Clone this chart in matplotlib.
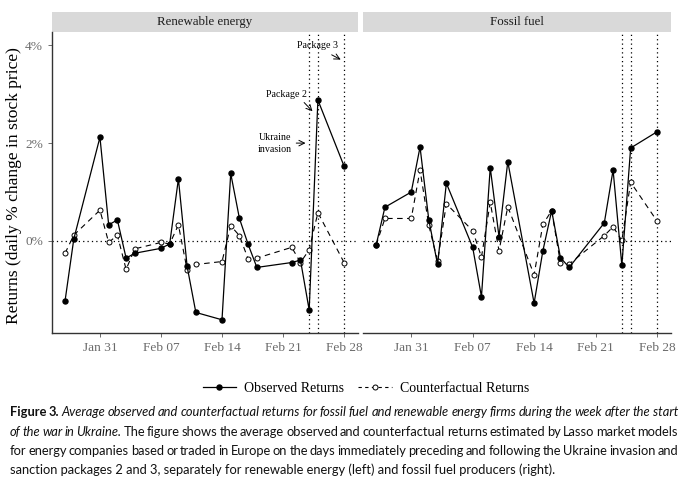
import matplotlib.pyplot as plt
import matplotlib.dates as mdates
import pandas as pd
from matplotlib.patches import Rectangle
from matplotlib.lines import Line2D

# trading days (no Feb 21, US holiday)
dates = pd.to_datetime(['2022-01-27', '2022-01-28', '2022-01-31', '2022-02-01', '2022-02-02',
                        '2022-02-03', '2022-02-04', '2022-02-07', '2022-02-08', '2022-02-09',
                        '2022-02-10', '2022-02-11', '2022-02-14', '2022-02-15', '2022-02-16',
                        '2022-02-17', '2022-02-18', '2022-02-22', '2022-02-23', '2022-02-24',
                        '2022-02-25', '2022-02-28'])

# daily returns in %
renew_obs = [-1.22, 0.04, 2.12, 0.33, 0.43, -0.35, -0.25, -0.15, -0.06, 1.27, -0.52,
             -1.46, -1.61, 1.38, 0.46, -0.07, -0.54, -0.44, -0.39, -1.41, 2.88, 1.53]
renew_cf = [-0.25, 0.12, 0.63, -0.03, 0.12, -0.58, -0.16, -0.03, -0.06, 0.33, -0.59,
            -0.48, -0.42, 0.31, 0.11, -0.37, -0.35, -0.13, -0.44, -0.18, 0.58, -0.44]
fossil_obs = [-0.08, 0.69, 1.00, 1.92, 0.43, -0.48, 1.18, -0.13, -1.14, 1.50, 0.09,
              1.62, -1.27, -0.20, 0.62, -0.34, -0.54, 0.37, 1.45, -0.50, 1.90, 2.23]
fossil_cf = [-0.08, 0.46, 0.46, 1.45, 0.32, -0.41, 0.76, 0.21, -0.33, 0.79, -0.20,
             0.70, -0.69, 0.34, 0.62, -0.45, -0.47, 0.11, 0.29, 0.01, 1.20, 0.41]

event_dates = pd.to_datetime(['2022-02-24', '2022-02-25', '2022-02-28'])
panel_titles = ['Renewable energy', 'Fossil fuel']
tick_dates = pd.to_datetime(['2022-01-31', '2022-02-07', '2022-02-14', '2022-02-21', '2022-02-28'])
y_ticks = [0, 2, 4]

W, H = 688, 480
serif = 'Liberation Serif'
plt.rcParams['font.family'] = serif
fig = plt.figure(figsize=(W / 100, H / 100), dpi=100)

panels = [(52, 358), (363, 671)]
top, bottom = 32, 333
axes = []
for (x0, x1) in panels:
    ax = fig.add_axes([x0 / W, 1 - bottom / H, (x1 - x0) / W, (bottom - top) / H])
    axes.append(ax)

series = [(renew_obs, renew_cf), (fossil_obs, fossil_cf)]
base = mdates.date2num(pd.Timestamp('2022-01-31'))

for i, ax in enumerate(axes):
    obs, cf = series[i]
    ax.axhline(0, color='black', lw=0.9, ls=(0, (1, 2.5)), zorder=1)
    for d in event_dates:
        ax.axvline(d, color='black', lw=0.9, ls=(0, (1, 2.5)), zorder=1)
    ax.plot(dates, cf, color='black', lw=0.8, ls=(0, (5, 4)), marker='o', ms=3.6,
            mfc='white', mec='black', mew=0.7, zorder=3)
    ax.plot(dates, obs, color='black', lw=0.9, marker='o', ms=3.6, mfc='black',
            mec='black', zorder=4)

    ax.set_xlim(base - 5.5, base + 29.6)
    ax.set_ylim(-1.88, 4.27)
    ax.set_xticks(tick_dates)
    ax.xaxis.set_major_formatter(mdates.DateFormatter('%b %d'))
    ax.set_yticks(y_ticks)
    ax.set_yticklabels([f'{v}%' for v in y_ticks])
    ax.tick_params(colors='#555555', labelcolor='#6b6b6b', labelsize=9.6, length=3, width=0.6)
    for s in ['top', 'right']:
        ax.spines[s].set_visible(False)
    ax.spines['bottom'].set_color('#333333')
    ax.spines['left'].set_color('#333333')
    ax.spines['bottom'].set_linewidth(1.0)
    ax.spines['left'].set_linewidth(1.0)
    if i == 1:
        ax.spines['left'].set_visible(False)
        ax.tick_params(axis='y', left=False, labelleft=False)

    # facet strip
    ax.add_patch(Rectangle((0, 1), 1, 20 / (bottom - top), transform=ax.transAxes,
                           facecolor='#d9d9d9', edgecolor='none', clip_on=False))
    ax.text(0.5, 1 + 10 / (bottom - top), panel_titles[i], transform=ax.transAxes,
            ha='center', va='center', fontsize=9.3, color='#1a1a1a')

axes[0].set_ylabel('Returns (daily % change in stock price)', fontsize=12.6)
axes[0].yaxis.set_label_coords(-30 / 306, 0.49)

# event labels on the left panel
ax = axes[0]
ax.text(base + 25.0, 4.0, 'Package 3', fontsize=7.2, ha='center', va='center')
ax.annotate('', xy=(base + 27.9, 3.68), xytext=(base + 26.3, 3.83),
            arrowprops=dict(arrowstyle='->', lw=0.7, color='black'))
ax.text(base + 21.4, 2.99, 'Package 2', fontsize=7.2, ha='center', va='center')
ax.annotate('', xy=(base + 24.6, 2.61), xytext=(base + 23.2, 2.87),
            arrowprops=dict(arrowstyle='->', lw=0.7, color='black'))
ax.text(base + 20.1, 1.99, 'Ukraine\ninvasion', fontsize=7.2, ha='center', va='center',
        linespacing=1.5)
ax.annotate('', xy=(base + 23.9, 2.0), xytext=(base + 22.2, 2.0),
            arrowprops=dict(arrowstyle='->', lw=0.7, color='black'))

handles = [Line2D([], [], color='black', lw=0.9, marker='o', ms=3.6),
           Line2D([], [], color='black', lw=0.8, ls=(0, (3, 3)), marker='o', ms=3.6,
                  mfc='white', mew=0.7)]
fig.legend(handles, ['Observed Returns', 'Counterfactual Returns'], loc='center',
           bbox_to_anchor=(366 / W, 1 - 388 / H), ncol=2, frameon=False, fontsize=10,
           handlelength=2.4, columnspacing=1.0, handletextpad=0.6)

# caption, justified line by line (last line left as is)
cap_font = 'Lato'
cap_size = 9.3
cap_lines = [
    [('Figure 3.', 'bold'), ('Average observed and counterfactual returns for fossil fuel and renewable energy firms during the week after the start', 'italic')],
    [('of the war in Ukraine.', 'italic'), ('The figure shows the average observed and counterfactual returns estimated by Lasso market models', 'normal')],
    [('for energy companies based or traded in Europe on the days immediately preceding and following the Ukraine invasion and', 'normal')],
]
last_line = 'sanction packages 2 and 3, separately for renewable energy (left) and fossil fuel producers (right).'
cap_y = [412, 432, 451, 470]
left_x, right_x = 10, 678

renderer = fig.canvas.get_renderer()
for n, line in enumerate(cap_lines):
    words = []
    for chunk, style in line:
        for w in chunk.split(' '):
            words.append((w, style))
    arts = []
    for w, style in words:
        kw = dict(fontsize=cap_size, family=cap_font, va='center', ha='left', color='#111111')
        if style == 'bold':
            kw['fontweight'] = 'bold'
        elif style == 'italic':
            kw['fontstyle'] = 'italic'
        arts.append(fig.text(0, 1 - cap_y[n] / H, w, **kw))
    widths = [a.get_window_extent(renderer).width for a in arts]
    gap = (right_x - left_x - sum(widths)) / (len(arts) - 1)
    x = left_x
    for a, wd in zip(arts, widths):
        a.set_x(x / W)
        x += wd + gap

fig.text(left_x / W, 1 - cap_y[3] / H, last_line, fontsize=cap_size, family=cap_font,
         va='center', ha='left', color='#111111')

fig.savefig('out.png', dpi=100)
